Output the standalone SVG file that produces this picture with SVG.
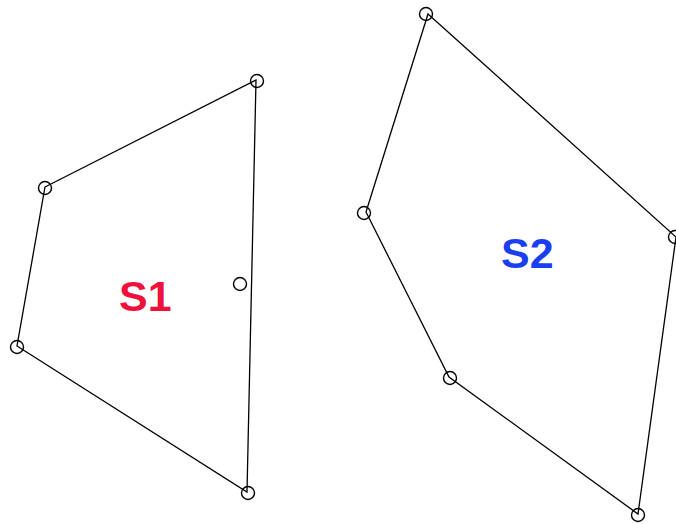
<svg xmlns="http://www.w3.org/2000/svg" width="676" height="524" viewBox="0 0 676 524">
<style>
.e{fill:none;stroke:#000;stroke-width:1.3}
.v{fill:none;stroke:#000;stroke-width:1.4}
.t{font-family:"Liberation Sans",Arial,sans-serif;font-weight:bold;font-size:43px}
</style>
<rect width="676" height="524" fill="#fff"/>
<g id="connectors">
<polygon class="e" points="45,187 256,80 247,492 17,346"/>
<polygon class="e" points="428,14 676,237 638,514 449,377 366,212"/>
</g>
<g id="S1-vertices">
<circle class="v" cx="45" cy="188" r="6.5"/>
<circle class="v" cx="257" cy="81" r="6.5"/>
<circle class="v" cx="17" cy="347" r="6.5"/>
<circle class="v" cx="248" cy="493" r="6.5"/>
<circle class="v" cx="240" cy="284" r="6.5"/>
</g>
<g id="S2-vertices">
<circle class="v" cx="426" cy="14" r="6.5"/>
<circle class="v" cx="675" cy="237" r="6.5"/>
<circle class="v" cx="638" cy="515" r="6.5"/>
<circle class="v" cx="450" cy="378" r="6.5"/>
<circle class="v" cx="364" cy="213" r="6.5"/>
</g>
<g id="S1"><text class="t" x="119" y="311" fill="#f0103c">S1</text></g>
<g id="S2"><text class="t" x="501" y="268" fill="#1a3ff0">S2</text></g>
</svg>
